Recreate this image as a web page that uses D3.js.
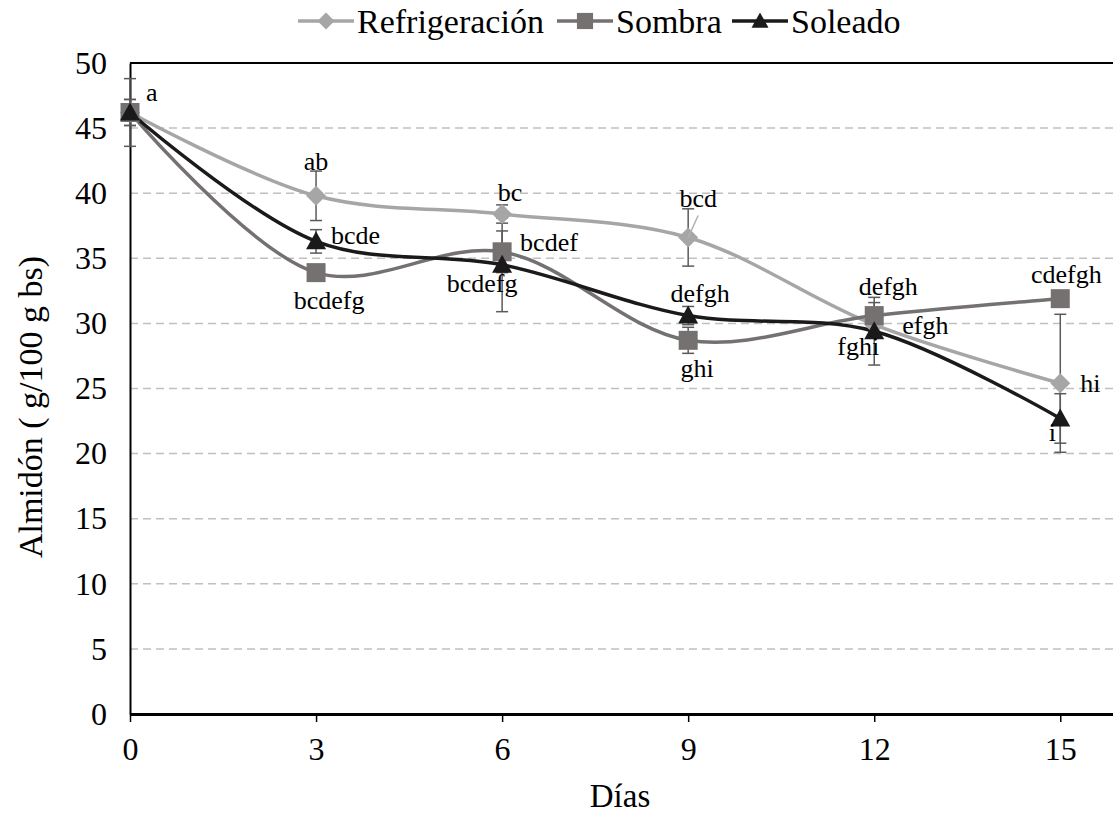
<!DOCTYPE html>
<html>
<head>
<meta charset="utf-8">
<script src="https://cdn.jsdelivr.net/npm/d3@7"></script>
<style>
  body { margin: 0; background: #fff; }
  svg text { font-family: "Liberation Serif", "Times New Roman", Times, "DejaVu Serif", serif; fill: #000; }
</style>
</head>
<body>
<div class="chart"></div>
<script>
var dias = [0, 3, 6, 9, 12, 15];
var yTicks = [0, 5, 10, 15, 20, 25, 30, 35, 40, 45, 50];

var refrigeracion = [46.2, 39.8, 38.4, 36.6, 29.9, 25.4];
var sombra = [46.2, 33.9, 35.5, 28.7, 30.6, 31.9];
var soleado = [46.2, 36.3, 34.5, 30.6, 29.4, 22.7];

var errRefrigeracion = [1.0, 1.9, 0.7, 2.2, 0.5, 5.3];
var errSombra = [2.6, 0.3, 1.6, 1.0, 1.0, 0.4];
var errSoleado = [1.0, 0.9, 3.6, 0.7, 2.6, 1.9];

var letrasRefrigeracion = ["a", "ab", "bc", "bcd", "efgh", "hi"];
var letrasSombra = ["", "bcdefg", "bcdef", "ghi", "defgh", "cdefgh"];
var letrasSoleado = ["", "bcde", "bcdefg", "defgh", "fghi", "i"];

var svgWidth = 1113;
var svgHeight = 814;
var margin = {top: 63, right: 0, bottom: 100, left: 130};

var svg = d3.select(".chart")
  .append("svg")
  .attr("width", svgWidth)
  .attr("height", svgHeight);

var x = d3.scaleLinear().domain([0, 15.85]).range([margin.left, svgWidth]);
var y = d3.scaleLinear().domain([0, 50]).range([714, margin.top]);

// gridlines
svg.append("g").selectAll("line")
  .data(yTicks.filter(d => d > 0 && d < 50))
  .enter().append("line")
  .attr("x1", x(0)).attr("x2", svgWidth)
  .attr("y1", d => y(d)).attr("y2", d => y(d))
  .attr("stroke", "#c0c0c0")
  .attr("stroke-width", 1.5)
  .attr("stroke-dasharray", "8,5");

// top border
svg.append("line")
  .attr("x1", x(0)).attr("x2", svgWidth)
  .attr("y1", y(50)).attr("y2", y(50))
  .attr("stroke", "#000").attr("stroke-width", 2);

// y axis
var leftAxis = d3.axisLeft(y).tickValues(yTicks).tickSize(0).tickPadding(23);
var gy = svg.append("g").attr("transform", `translate(${x(0)},0)`).call(leftAxis);
gy.attr("font-family", null);
gy.select(".domain").attr("stroke", "#000").attr("stroke-width", 2);
gy.selectAll("text").attr("font-size", 32);

// x axis
var bottomAxis = d3.axisBottom(x).tickValues(dias).tickSize(8).tickPadding(15).tickSizeOuter(0);
var gx = svg.append("g").attr("transform", `translate(0,${y(0)})`).call(bottomAxis);
gx.attr("font-family", null);
gx.select(".domain").attr("stroke", "#000").attr("stroke-width", 3);
gx.selectAll(".tick line").attr("stroke", "#000").attr("stroke-width", 1.5);
gx.selectAll("text").attr("font-size", 32);

// axis titles
svg.append("text")
  .attr("transform", `translate(42, 407) rotate(-90)`)
  .attr("text-anchor", "middle")
  .attr("font-size", 34)
  .text("Almidón ( g/100 g bs)");

svg.append("text")
  .attr("x", 620)
  .attr("y", 807)
  .attr("text-anchor", "middle")
  .attr("font-size", 33)
  .text("Días");

var series = [
  {name: "Refrigeración", values: refrigeracion, err: errRefrigeracion, letras: letrasRefrigeracion,
   color: "#a6a6a6", marker: "diamond",
   offsets: [[16, -21, "start"], [0, -35, "middle"], [8, -22, "middle"], [10, -40, "middle"], [28, 0, "start"], [20, 0, "start"]]},
  {name: "Sombra", values: sombra, err: errSombra, letras: letrasSombra,
   color: "#767171", marker: "square",
   offsets: [[0, 0, "middle"], [13, 27, "middle"], [18, -10, "start"], [9, 28, "middle"], [14, -30, "middle"], [6, -25, "middle"]]},
  {name: "Soleado", values: soleado, err: errSoleado, letras: letrasSoleado,
   color: "#1a1a1a", marker: "triangle",
   offsets: [[0, 0, "middle"], [15, -6, "start"], [-20, 18, "middle"], [12, -23, "middle"], [-16, 15, "middle"], [-8, 13, "middle"]]}
];

// marker shapes, scaled by k
function markerPath(type, k) {
  if (type === "diamond") return `M0,${-10 * k}L${10 * k},0L0,${10 * k}L${-10 * k},0Z`;
  if (type === "square") return `M${-9.5 * k},${-9.5 * k}h${19 * k}v${19 * k}h${-19 * k}Z`;
  return `M0,${-10 * k}L${10 * k},${8 * k}L${-10 * k},${8 * k}Z`;
}

// error bars
series.forEach(function(s) {
  var g = svg.append("g");
  dias.forEach(function(d, i) {
    var lo = s.values[i] - s.err[i], hi = s.values[i] + s.err[i];
    g.append("line").attr("x1", x(d)).attr("x2", x(d)).attr("y1", y(lo)).attr("y2", y(hi))
      .attr("stroke", "#5a5a5a").attr("stroke-width", 1.5);
    [lo, hi].forEach(function(v) {
      g.append("line").attr("x1", x(d) - 6).attr("x2", x(d) + 6).attr("y1", y(v)).attr("y2", y(v))
        .attr("stroke", "#5a5a5a").attr("stroke-width", 1.5);
    });
  });
});

// lines
var line = d3.line()
  .x((d, i) => x(dias[i]))
  .y(d => y(d))
  .curve(d3.curveCatmullRom.alpha(0.5));

series.forEach(function(s) {
  svg.append("path")
    .datum(s.values)
    .attr("d", line)
    .attr("fill", "none")
    .attr("stroke", s.color)
    .attr("stroke-width", 3.5);
});

// markers
series.forEach(function(s) {
  svg.append("g").selectAll("path")
    .data(s.values)
    .enter().append("path")
    .attr("transform", (d, i) => `translate(${x(dias[i])},${y(d)})`)
    .attr("d", markerPath(s.marker, 1))
    .attr("fill", s.color);
});

// leader line for bcd
svg.append("line")
  .attr("x1", x(9)).attr("y1", y(refrigeracion[3]))
  .attr("x2", x(9) + 10).attr("y2", y(refrigeracion[3]) - 22)
  .attr("stroke", "#b0b0b0").attr("stroke-width", 1.5);

// data labels
series.forEach(function(s) {
  s.letras.forEach(function(t, i) {
    if (!t) return;
    var o = s.offsets[i];
    svg.append("text")
      .attr("x", x(dias[i]) + o[0])
      .attr("y", y(s.values[i]) + o[1])
      .attr("dy", "0.35em")
      .attr("text-anchor", o[2])
      .attr("font-size", 26)
      .text(t);
  });
});

// legend
var legendItems = [
  {name: "Refrigeración", color: "#a6a6a6", marker: "diamond", x0: 298},
  {name: "Sombra", color: "#767171", marker: "square", x0: 557},
  {name: "Soleado", color: "#1a1a1a", marker: "triangle", x0: 732}
];
var legend = svg.append("g").attr("transform", "translate(0,21)");
legendItems.forEach(function(l) {
  legend.append("line").attr("x1", l.x0).attr("x2", l.x0 + 56).attr("y1", 0).attr("y2", 0)
    .attr("stroke", l.color).attr("stroke-width", 3.5);
  legend.append("path")
    .attr("transform", `translate(${l.x0 + 28},0)`)
    .attr("d", markerPath(l.marker, 0.85))
    .attr("fill", l.color);
  legend.append("text").attr("x", l.x0 + 59).attr("y", 0).attr("dy", "0.35em")
    .attr("font-size", 34).text(l.name);
});
</script>
</body>
</html>
